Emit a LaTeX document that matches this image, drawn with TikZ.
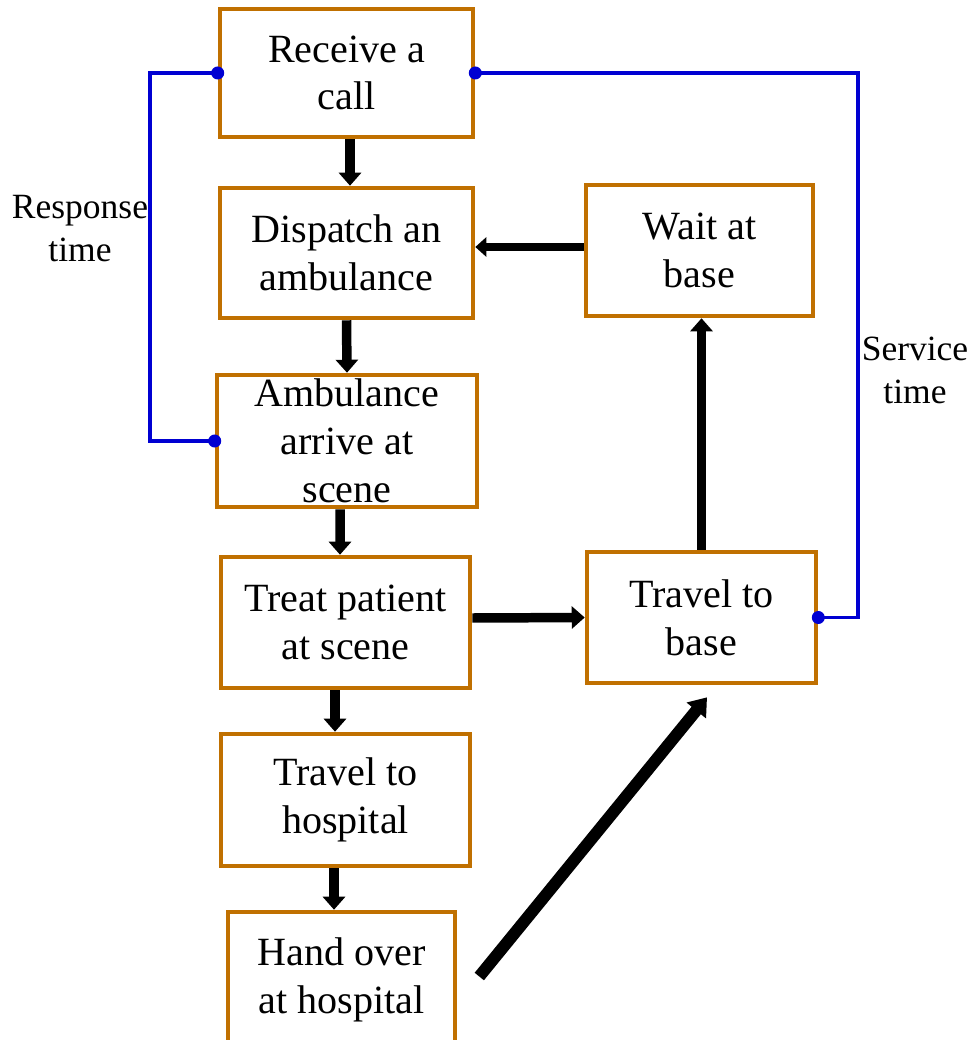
\documentclass[tikz,border=0pt]{standalone}
\usepackage{fontspec}
\setmainfont{Liberation Serif}
\usepackage{tikz}
\usetikzlibrary{arrows.meta}
\usetikzlibrary{calc,positioning}
\definecolor{boxorange}{RGB}{192,112,0}
\definecolor{lineblue}{RGB}{0,0,210}

\begin{document}
\begin{tikzpicture}[
			stage/.style={rectangle, draw=boxorange, line width=1.3pt, fill=white, inner sep=0pt,
					align=center, text=black, font=\rmfamily\fontsize{11.4}{13.6}\selectfont},
			flow/.style={line width=2.7pt, -{Triangle[width=0.22cm,length=0.13cm]}},
			period/.style={draw=lineblue, line width=1.1pt},
			timelabel/.style={align=center, text=black, font=\rmfamily\fontsize{10.1}{12.1}\selectfont}]
		\useasboundingbox (0,0) rectangle (9.73,-10.40);

		\node (call) [stage, minimum width=2.53cm, minimum height=1.28cm] at (3.465,-0.73) {Receive a\\call};
		\node (dispatch) [stage, minimum width=2.53cm, minimum height=1.30cm] at (3.465,-2.53) {Dispatch an\\ambulance};
		\node (arrive) [stage, minimum width=2.60cm, minimum height=1.32cm] at (3.47,-4.41) {Ambulance\\arrive at\\scene};
		\node (treat) [stage, minimum width=2.49cm, minimum height=1.31cm] at (3.455,-6.225) {Treat patient\\at scene};
		\node (hospital) [stage, minimum width=2.49cm, minimum height=1.32cm] at (3.455,-8.00) {Travel to\\hospital};
		\node (handover) [stage, minimum width=2.27cm, minimum height=1.36cm] at (3.415,-9.80) {Hand over\\at hospital};
		\node (wait) [stage, minimum width=2.27cm, minimum height=1.31cm] at (6.995,-2.505) {Wait at\\base};
		\node (base) [stage, minimum width=2.29cm, minimum height=1.31cm] at (7.015,-6.175) {Travel to\\base};

		\node (response) [timelabel] at (0.80,-2.285) {Response\\time};
		\node (service) [timelabel] at (9.15,-3.705) {Service\\time};

		\draw [period] (call.west) -- ++(-0.68,0) |- (arrive.west);
		\draw [period] (call.east) -- ++(3.83,0) |- (base.east);
		\fill [lineblue] (call.west) circle (0.065);
		\fill [lineblue] (arrive.west) circle (0.065);
		\fill [lineblue] (call.east) circle (0.065);
		\fill [lineblue] (base.east) circle (0.065);

		\draw [flow] ([xshift=0.035cm]call.south) -- ([xshift=0.035cm]dispatch.north);
		\draw [flow] (dispatch.south) -- (arrive.north);
		\draw [flow] ([xshift=-0.07cm]arrive.south) -- ([xshift=-0.055cm]treat.north);
		\draw [flow] ([xshift=-0.105cm]treat.south) -- ([xshift=-0.105cm]hospital.north);
		\draw [flow] ([xshift=-0.115cm]hospital.south) -- ([xshift=-0.075cm]handover.north);
		\draw [flow] ([yshift=0.045cm]treat.east) -- (base.west);
		\draw [flow] (base.north) -- (base.north |- wait.south);
		\draw [flow, line width=2.2pt, -{Triangle[width=0.19cm,length=0.11cm]}] ([yshift=0.035cm]wait.west) -- ([yshift=0.06cm]dispatch.east);
		\draw [flow, line width=3.4pt, -{Triangle[width=0.24cm,length=0.17cm]}] ([xshift=0.22cm,yshift=0.035cm]handover.east) -- ([xshift=0.055cm,yshift=-0.12cm]base.south);
	\end{tikzpicture}
\end{document}
